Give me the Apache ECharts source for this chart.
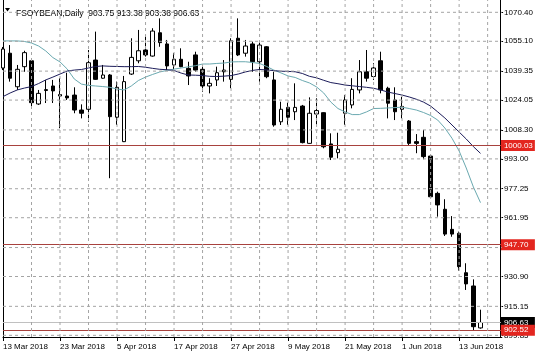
<!DOCTYPE html>
<html><head><meta charset="utf-8">
<script src="https://cdn.jsdelivr.net/npm/echarts@6/dist/echarts.min.js"></script>
<style>html,body{margin:0;padding:0;background:#fff}#c{width:536px;height:357px}</style>
</head><body><div id="c"></div>
<script>
const dates = ['13 Mar 2018','14 Mar 2018','15 Mar 2018','16 Mar 2018','19 Mar 2018','20 Mar 2018','21 Mar 2018','22 Mar 2018','23 Mar 2018','26 Mar 2018','27 Mar 2018','28 Mar 2018','29 Mar 2018',
'2 Apr 2018','3 Apr 2018','4 Apr 2018','5 Apr 2018','6 Apr 2018','9 Apr 2018','10 Apr 2018','11 Apr 2018','12 Apr 2018','13 Apr 2018','16 Apr 2018','17 Apr 2018','18 Apr 2018','19 Apr 2018','20 Apr 2018','23 Apr 2018','24 Apr 2018','25 Apr 2018','26 Apr 2018','27 Apr 2018','30 Apr 2018',
'1 May 2018','2 May 2018','3 May 2018','4 May 2018','7 May 2018','8 May 2018','9 May 2018','10 May 2018','11 May 2018','14 May 2018','15 May 2018','16 May 2018','17 May 2018','18 May 2018','21 May 2018','22 May 2018','23 May 2018','24 May 2018','25 May 2018','29 May 2018','30 May 2018','31 May 2018',
'1 Jun 2018','4 Jun 2018','5 Jun 2018','6 Jun 2018','7 Jun 2018','8 Jun 2018','11 Jun 2018','12 Jun 2018','13 Jun 2018','14 Jun 2018','15 Jun 2018','18 Jun 2018'];
const padCategories = [' ', '  ', '   '];

const opens = [1041.0,1048.8,1031.1,1041.7,1044.8,1022.0,1029.1,1031.5,1026.2,1026.2,
1026.7,1018.8,1019.2,1045.2,1035.6,1037.3,1015.0,1002.1,1037.8,1044.8,
1050.5,1047.3,1059.6,1053.7,1042.6,1045.6,1040.8,1047.9,1040.3,1031.5,
1034.7,1039.0,1035.0,1056.7,1048.8,1053.7,1044.3,1052.2,1034.7,1012.6,
1020.2,1017.9,1020.9,1001.2,1016.7,1017.4,1000.9,996.3,1017.1,1021.5,
1029.4,1039.0,1036.5,1044.8,1030.3,1024.1,1019.2,1013.0,1002.1,1004.4,
994.5,974.8,966.4,955.8,953.7,932.9,925.9,903.75];
const closes = [1051.0,1035.6,1040.3,1049.1,1022.7,1027.6,1029.6,1028.9,1027.0,1025.2,
1018.8,1017.1,1043.8,1035.0,1037.3,1015.3,1030.8,1033.8,1046.6,1050.1,
1047.9,1060.5,1054.4,1042.1,1045.6,1041.7,1036.8,1039.9,1031.5,1032.9,
1038.5,1039.9,1055.4,1047.9,1052.6,1044.3,1053.1,1036.4,1010.9,1019.2,
1015.0,1020.2,1001.6,1017.1,1018.5,999.4,993.9,998.1,1024.1,1029.7,
1039.0,1035.6,1041.0,1029.4,1022.4,1017.9,1020.7,1001.2,1001.2,994.2,
973.0,968.7,953.3,953.3,936.1,927.0,904.4,906.63];
const lows = [1039.9,1033.8,1029.4,1039.0,1020.9,1021.5,1022.5,1022.5,1009.2,1024.1,
1017.1,1014.4,1012.6,1034.7,1035.3,982.8,1010.9,1001.9,1037.3,1043.5,
1047.0,1047.0,1052.2,1039.9,1040.3,1041.4,1032.0,1039.0,1028.5,1027.6,
1031.5,1033.8,1030.3,1047.3,1047.0,1039.0,1033.8,1035.6,1010.0,1010.9,
1010.9,1013.5,1001.2,1001.0,1010.9,998.6,992.4,993.3,1010.9,1019.7,
1027.6,1033.8,1034.7,1027.6,1014.4,1013.5,1014.4,1000.3,996.0,992.8,
972.7,962.5,952.3,951.9,934.0,923.8,902.6,903.38];
const highs = [1052.1,1053.1,1042.6,1050.1,1045.2,1029.4,1034.7,1034.7,1035.6,1038.5,
1030.8,1021.8,1050.5,1060.2,1042.6,1037.8,1033.8,1036.8,1056.7,1061.1,
1058.4,1062.0,1067.2,1055.8,1048.8,1051.4,1044.3,1049.6,1041.7,1035.6,
1041.7,1045.2,1056.7,1067.2,1055.8,1054.9,1054.4,1052.6,1039.0,1023.2,
1022.7,1032.9,1021.5,1025.5,1025.0,1017.6,1006.5,1006.8,1026.7,1035.6,
1045.2,1050.5,1043.5,1049.6,1031.1,1030.8,1025.8,1013.5,1006.1,1008.3,
995.1,975.7,971.7,962.8,954.6,937.9,929.4,913.38];
const maFast = [1055.3,1055.3,1055.3,1055.0,1054.2,1052.6,1050.0,1046.5,1044.2,1040.5,
1035.2,1032.5,1031.8,1031.5,1031.2,1030.8,1029.9,1029.4,1031.5,1034.4,
1036.2,1037.6,1038.9,1039.7,1040.4,1041.0,1041.6,1042.2,1043.1,1043.1,
1043.4,1043.6,1044.2,1044.3,1044.3,1043.9,1043.4,1041.8,1039.9,1038.4,
1036.8,1036.0,1034.4,1033.1,1031.0,1027.8,1023.0,1019.6,1017.8,1016.4,
1016.4,1017.8,1019.6,1019.7,1019.9,1020.1,1020.3,1019.6,1018.8,1017.5,
1015.9,1013.5,1009.3,1003.9,997.2,988.2,978.2,969.9];
const maSlow = [1025.9,1027.8,1029.4,1030.4,1031.2,1032.8,1034.7,1036.2,1037.8,1039.4,
1039.9,1040.2,1041.0,1041.8,1042.1,1041.9,1041.8,1041.7,1041.7,1041.8,
1041.4,1040.8,1040.3,1040.1,1039.7,1038.3,1037.3,1037.2,1037.0,1036.6,
1036.5,1036.7,1037.0,1037.8,1038.9,1039.7,1040.2,1040.0,1039.6,1039.3,
1039.2,1039.0,1038.1,1036.6,1035.8,1034.5,1033.3,1032.7,1032.0,1031.6,
1031.2,1030.8,1030.3,1029.4,1028.3,1027.5,1026.7,1025.7,1024.5,1023.0,
1020.9,1017.8,1014.6,1010.9,1007.2,1003.5,999.5,995.9];
const yTicks = [1070.40,1055.10,1039.35,1024.05,1008.30,993.00,977.25,961.95,946.20,930.90,915.15,899.85];
const levels = [1000.03, 947.70, 902.52];
const lastPrice = 906.63;
const headerText = 'FSOYBEAN,Daily  903.75 913.38 903.38 906.63';
const yMin = 898.96, yMax = 1076.9;
const xGridEvery = 4, xLabelEvery = 8;

const FONT = 'Liberation Sans';
const chart = echarts.init(document.getElementById('c'), null, {renderer: 'canvas'});
const categories = dates.concat(padCategories);
const lastIdx = categories.length - 1;
const candleData = opens.map((o, i) => [o, closes[i], lows[i], highs[i]]);

const hGridData = [];
yTicks.forEach(t => { hGridData.push([0, t], [lastIdx, t], '-'); });
const vGridData = [];
categories.forEach((c, i) => { if (i > 0 && i % xGridEvery === 0) vGridData.push([i, yMin], [i, yMax], '-'); });

const tagLabel = (bg) => ({show: true, position: 'end', distance: -1, formatter: p => p.value.toFixed(2),
  color: '#fff', backgroundColor: bg, padding: [2, 3, 1, 3], width: 28, fontFamily: FONT, fontSize: 8});
const levelLine = {color: '#a8423e', width: 1, type: 'solid', opacity: 1};
const gridStyle = {color: '#a4a4a4', width: 1, type: [3, 3], opacity: 1};

chart.setOption({
  animation: false,
  backgroundColor: '#fff',
  title: {text: headerText, left: 11, top: 4, textStyle: {fontFamily: FONT, fontSize: 8.5, fontWeight: 'normal', color: '#000'}},
  graphic: [{type: 'polygon', shape: {points: [[5, 8], [10, 8], [7.5, 11.5]]}, style: {fill: '#000'}}],
  grid: {left: 3, right: 33.2, top: 0, bottom: 20, containLabel: false},
  xAxis: {
    type: 'category', data: categories, boundaryGap: false,
    axisLine: {show: true, onZero: false, lineStyle: {color: '#000', width: 1}},
    axisTick: {show: true, interval: xLabelEvery - 1, length: 4, lineStyle: {color: '#000'}},
    axisLabel: {interval: xLabelEvery - 1, align: 'left', color: '#000', fontFamily: FONT, fontSize: 8, margin: 6},
    splitLine: {show: false}
  },
  yAxis: [{
    type: 'value', position: 'right', offset: -1.8, min: yMin, max: yMax,
    axisLine: {show: true, lineStyle: {color: '#000', width: 1}},
    axisTick: {show: true, length: 3, customValues: yTicks, lineStyle: {color: '#000'}},
    axisLabel: {customValues: yTicks, formatter: v => v.toFixed(2), color: '#000', fontFamily: FONT, fontSize: 8, margin: 4},
    splitLine: {show: false}
  }, {
    type: 'value', position: 'left', min: yMin, max: yMax,
    axisLine: {show: true, lineStyle: {color: '#000', width: 1}},
    axisTick: {show: false}, axisLabel: {show: false}, splitLine: {show: false}
  }],
  series: [{
    type: 'candlestick', data: candleData, barWidth: 4,
    itemStyle: {color: '#fff', color0: '#000', borderColor: '#000', borderColor0: '#000', borderWidth: 1},
    z: 3
  }, {
    type: 'line', data: maFast, showSymbol: false, symbol: 'none', lineStyle: {color: '#6aa9b0', width: 1}, z: 4
  }, {
    type: 'line', data: maSlow, showSymbol: false, symbol: 'none', lineStyle: {color: '#1c1c5a', width: 1}, z: 4
  }, {
    type: 'line', data: [], z: 5, silent: true,
    markLine: {
      z: 5, symbol: 'none', silent: true, animation: false,
      lineStyle: levelLine,
      label: tagLabel('#e3261f'),
      data: [{yAxis: lastPrice, lineStyle: {color: '#c0c0c0', width: 1, type: 'solid'}, label: tagLabel('#000')}]
        .concat(levels.map(v => ({yAxis: v, lineStyle: levelLine})))
    }
  }, {
    type: 'line', data: hGridData, showSymbol: false, symbol: 'none', silent: true, connectNulls: false,
    lineStyle: gridStyle, emphasis: {disabled: true}, z: 10
  }, {
    type: 'line', data: vGridData, showSymbol: false, symbol: 'none', silent: true, connectNulls: false,
    lineStyle: gridStyle, emphasis: {disabled: true}, z: 10
  }]
});
</script></body></html>
